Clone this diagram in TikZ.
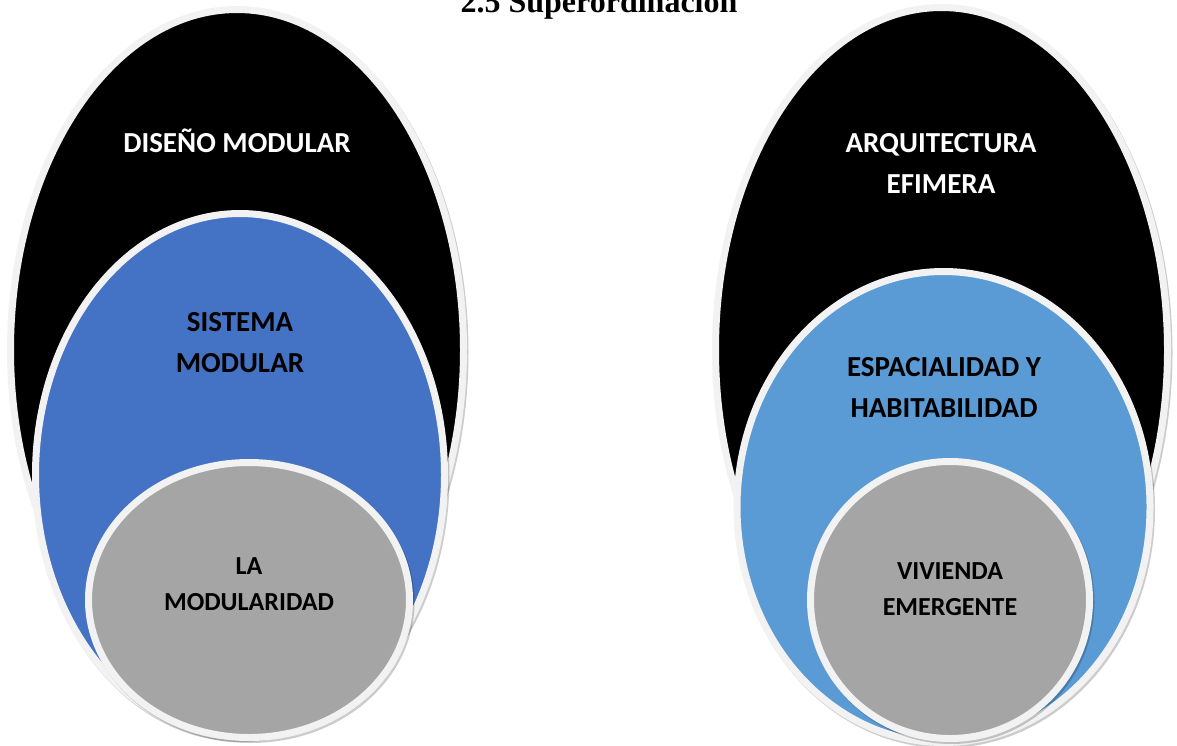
\documentclass[tikz,border=0pt]{standalone}
\usepackage{fontspec}
\setmainfont{Liberation Serif}
\newfontfamily\calibri{Carlito}
\usetikzlibrary{shapes.geometric}
\definecolor{rim}{HTML}{F2F2F2}
\definecolor{blueA}{HTML}{4472C4}
\definecolor{blueB}{HTML}{5B9BD5}
\definecolor{grayC}{HTML}{A5A5A5}
\begin{document}
\begin{tikzpicture}[x=1pt,y=-1pt,
  blob/.style={ellipse, draw=rim, line width=7pt, inner sep=0pt,
    preaction={draw=black, draw opacity=0.2, line width=7pt,
      transform canvas={shift={(1.5pt,-2pt)}}}},
  big/.style={font=\calibri\bfseries\fontsize{29}{41}\selectfont, align=center, inner sep=0pt},
  small/.style={font=\calibri\bfseries\fontsize{26}{36}\selectfont, align=center, inner sep=0pt}]
\useasboundingbox (0,0) rectangle (1177,745);
\clip (0,0) rectangle (1177,745);
% left group
\node[blob, fill=black, minimum width=453pt, minimum height=681pt] (dm) at (237,350) {};
\node[blob, fill=blueA, minimum width=409pt, minimum height=523pt] (sm) at (240,475) {};
\node[blob, fill=grayC, minimum width=321pt, minimum height=275pt] (lm) at (249,600) {};
\node[big, text=white, anchor=base] (tdm) at (237,152) {DISEÑO MODULAR};
\node[big] (tsm) at (240,343) {SISTEMA\\MODULAR};
\node[small] (tlm) at (249,584.5) {LA\\MODULARIDAD};
% right group
\node[blob, fill=black, minimum width=452pt, minimum height=685pt] (ae) at (941.5,350) {};
\node[blob, fill=blueB, minimum width=413pt, minimum height=471pt] (eh) at (943.5,507) {};
\node[blob, fill=grayC, minimum width=279pt, minimum height=277pt] (ve) at (950,600) {};
\node[big, text=white] (tae) at (941,163) {ARQUITECTURA\\EFIMERA};
\node[big] (teh) at (944,387) {ESPACIALIDAD Y\\HABITABILIDAD};
\node[small] (tve) at (950,589.5) {VIVIENDA\\EMERGENTE};
% title (cut off at the top edge, as in the reference)
\node[font=\bfseries\fontsize{32}{36}\selectfont, anchor=base, inner sep=0pt] (title) at (599,12) {2.5 Superordinación};
\end{tikzpicture}
\end{document}
